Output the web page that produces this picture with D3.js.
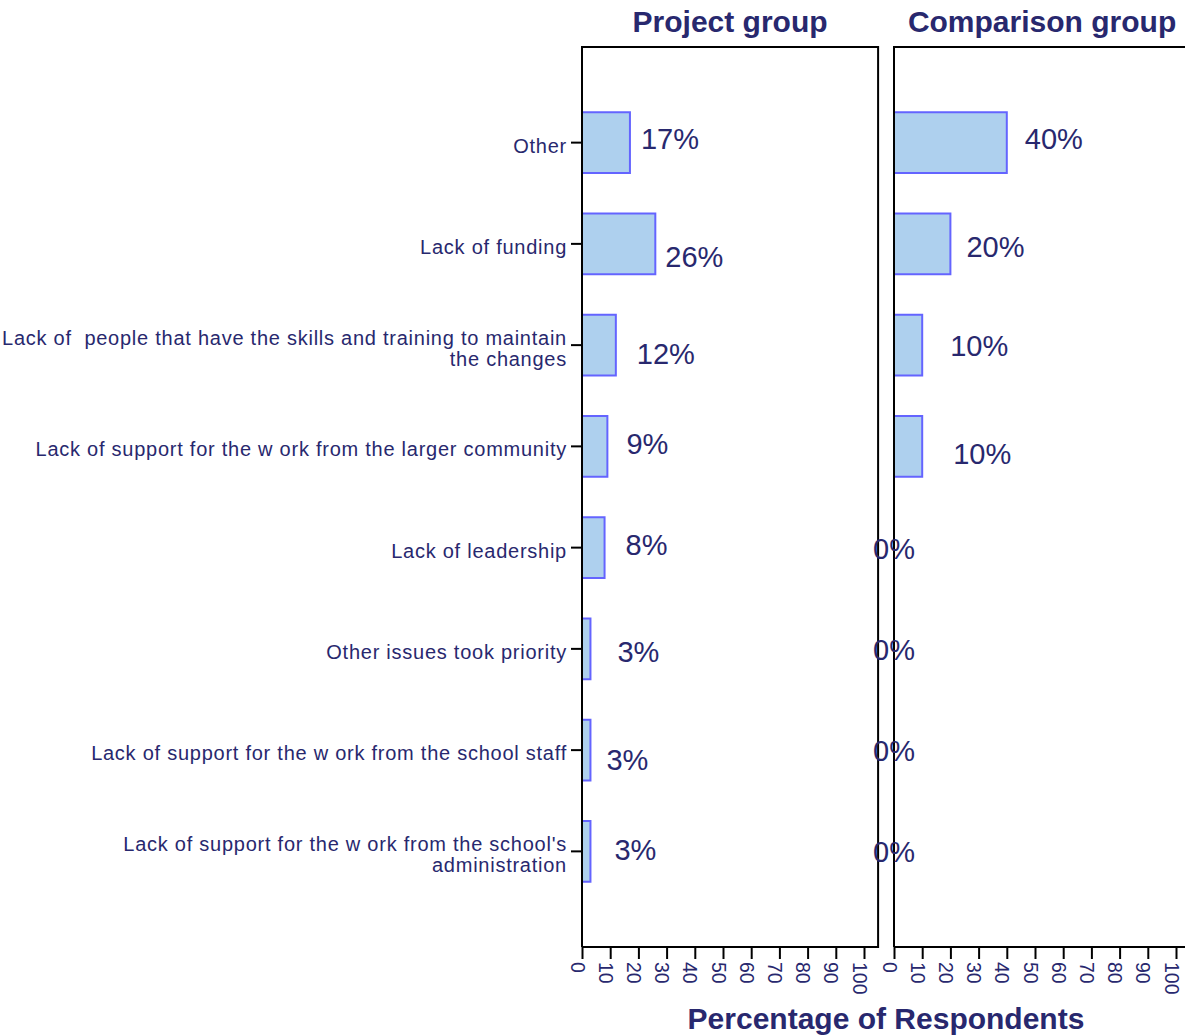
<!DOCTYPE html>
<html>
<head>
<meta charset="utf-8">
<script src="https://cdn.jsdelivr.net/npm/d3@7/dist/d3.min.js"></script>
<style>
  html, body { margin: 0; padding: 0; background: #fff; }
  svg { display: block; font-family: "Liberation Sans", Arial, sans-serif; }
</style>
</head>
<body>
<svg id="chart" width="1185" height="1036"></svg>
<script>
// ---- data ----
const categories = [
  "Other",
  "Lack of funding",
  "Lack of  people that have the skills and training to maintain\nthe changes",
  "Lack of support for the w ork from the larger community",
  "Lack of leadership",
  "Other issues took priority",
  "Lack of support for the w ork from the school staff",
  "Lack of support for the w ork from the school's\nadministration"
];
const projectValues = [17, 26, 12, 9, 8, 3, 3, 3];
const comparisonValues = [40, 20, 10, 10, 0, 0, 0, 0];
const panelTitles = ["Project group", "Comparison group"];
const xTickValues = [0, 10, 20, 30, 40, 50, 60, 70, 80, 90, 100];
const axisTitle = "Percentage of Respondents";

// ---- label nudges (layout only) ----
const projectLabelNudge = [[11,-4],[10,13],[21,9],[19,-2],[21,-3],[27,3],[16,10],[24,-1]];
const comparisonLabelNudge = [[18,-4],[16,3],[28,1],[31,8],[-21,1],[-21,1],[-21,1],[-21,1]];

// ---- styles ----
const textColor = "#28286e";
const barFill = "#aed0ee";
const barStroke = "#6464ff";

const svg = d3.select("#chart");

const frameTop = 47, frameBottom = 947;
const y = d3.scaleBand().domain(categories).range([92, 902]).paddingInner(0.4).paddingOuter(0.2);

const panels = [
  { title: panelTitles[0], values: projectValues, nudge: projectLabelNudge, x0: 582, showCats: true },
  { title: panelTitles[1], values: comparisonValues, nudge: comparisonLabelNudge, x0: 894, showCats: false }
];

panels.forEach(p => {
  const x = d3.scaleLinear().domain([0, 100]).range([p.x0, p.x0 + 282]);
  const right = x(105);
  const g = svg.append("g");

  // bars
  g.selectAll("rect.bar").data(p.values).join("rect")
    .attr("class", "bar")
    .attr("x", x(0))
    .attr("y", (d, i) => y(categories[i]))
    .attr("width", d => Math.max(x(d) - x(0), 0.01))
    .attr("height", y.bandwidth())
    .attr("fill", barFill)
    .attr("stroke", barStroke)
    .attr("stroke-width", 2);

  // frame
  g.append("path")
    .attr("d", `M${x(0)},${frameBottom}V${frameTop}H${right}V${frameBottom}H${x(0)}`)
    .attr("fill", "none").attr("stroke", "#000").attr("stroke-width", 2);

  // bottom axis
  const ax = g.append("g").attr("transform", `translate(0,${frameBottom})`)
    .call(d3.axisBottom(x).tickValues(xTickValues).tickSize(12).tickSizeOuter(0).tickPadding(0));
  ax.select(".domain").remove();
  ax.selectAll(".tick line").attr("stroke", "#000").attr("stroke-width", 2);
  ax.selectAll(".tick text")
    .attr("fill", textColor)
    .style("font-size", "19.5px")
    .attr("text-anchor", "start")
    .attr("dy", null)
    .attr("y", null)
    .attr("transform", "translate(-5,15) rotate(90)")
    .attr("dominant-baseline", "central");

  // value labels
  g.selectAll("text.val").data(p.values).join("text")
    .attr("class", "val")
    .attr("x", (d, i) => x(d) + p.nudge[i][0])
    .attr("y", (d, i) => y(categories[i]) + y.bandwidth() / 2 + p.nudge[i][1] + 10)
    .attr("fill", textColor)
    .style("font-size", "29px")
    .text(d => d + "%");

  // panel title
  g.append("text")
    .attr("x", (x(0) + right) / 2)
    .attr("y", 32)
    .attr("text-anchor", "middle")
    .attr("fill", textColor)
    .style("font-size", "30px")
    .style("font-weight", "bold")
    .text(p.title);

  if (p.showCats) {
    const ya = g.append("g").attr("transform", `translate(${x(0)},0)`)
      .call(d3.axisLeft(y).tickSize(11).tickFormat(""));
    ya.select(".domain").remove();
    ya.selectAll(".tick line").attr("stroke", "#000").attr("stroke-width", 2);

    categories.forEach(c => {
      const lines = c.split("\n");
      const cy = y(c) + y.bandwidth() / 2;
      const t = g.append("text")
        .attr("text-anchor", "end")
        .attr("fill", textColor)
        .style("font-size", "20px")
        .style("letter-spacing", "0.75px")
        .style("white-space", "pre")
        .attr("xml:space", "preserve");
      lines.forEach((ln, k) => {
        t.append("tspan")
          .attr("x", x(0) - 15)
          .attr("y", lines.length === 1 ? cy + 10 : cy + k * 21)
          .text(ln);
      });
    });
  }
});

// axis title
svg.append("text")
  .attr("x", 886)
  .attr("y", 1029)
  .attr("text-anchor", "middle")
  .attr("fill", textColor)
  .style("font-size", "30px")
  .style("font-weight", "bold")
  .text(axisTitle);
</script>
</body>
</html>
